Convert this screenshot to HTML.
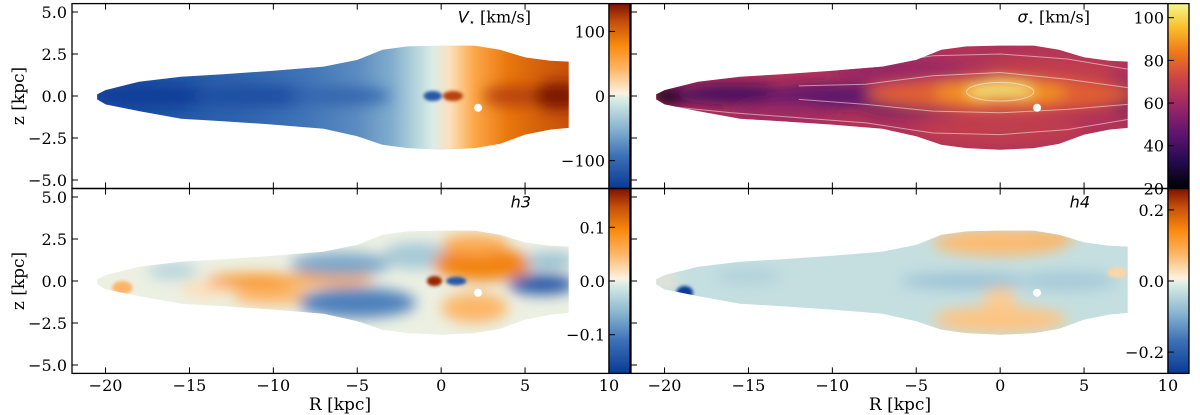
<!DOCTYPE html>
<html><head><meta charset="utf-8">
<style>
html,body{margin:0;padding:0;background:#fff;}
svg{display:block;}
text{font-family:"DejaVu Serif","Liberation Serif",serif;fill:#000;}
.sans{font-family:"DejaVu Sans","Liberation Sans",sans-serif;}
</style></head>
<body>
<svg id="fig" width="1200" height="415" viewBox="0 0 1200 415" xmlns="http://www.w3.org/2000/svg"></svg>
<script>
// ---------- data ----------
const xTicks = [-20, -15, -10, -5, 0, 5, 10];
const yTicks = [5.0, 2.5, 0.0, -2.5, -5.0];
const outlineR   = [-20.5, -20.0, -18.0, -15.5, -13.0, -10.0, -7.0, -5.0, -3.5, -2.0, 0.0, 2.0, 3.5, 5.0, 6.5, 7.6];
const outlineTop = [0.1, 0.35, 0.85, 1.15, 1.3, 1.5, 1.75, 2.15, 2.75, 2.95, 3.0, 3.0, 2.75, 2.3, 2.1, 2.05];
const outlineBot = [-0.2, -0.5, -0.9, -1.35, -1.5, -1.7, -1.95, -2.4, -2.9, -3.1, -3.2, -3.1, -2.85, -2.3, -2.0, -1.9];
// V map
const vGradR   = [-22, -18, -12, -8, -5, -3, -1.5, -0.5, 0.5, 2, 4, 6, 8, 10];
const vGradVal = [-130, -120, -105, -90, -75, -55, -25, -5, 15, 55, 90, 105, 115, 125];
const vBlobs = [ // R, z, value, rR, rz
  [-17, 0, -140, 4, 0.7], [-11, 0, -125, 4, 0.6], [-6, 0, -105, 3, 0.5], [-0.5, 0, -115, 0.55, 0.3],
  [0.7, 0, 120, 0.6, 0.3], [4.5, 0, 120, 2, 0.6], [7, 0, 150, 1.5, 0.8]];
// sigma map
const sBase = 64;
const sBlobs = [
  [-19.5, 0, 22, 1.2, 0.5], [-16, 0.1, 40, 3.5, 0.6], [-10, 0.0, 45, 4, 0.7], [-5, -0.7, 42, 3, 0.4],
  [7.2, 0, 38, 1.0, 0.8], [5, 0.1, 50, 2.5, 0.6], [-13, -1.0, 60, 3, 0.6], [-6, 1.5, 58, 4, 0.7],
  [0, -2, 68, 5, 0.9], [3, 1.6, 68, 4, 0.8], [0, 0.1, 78, 8, 1.0], [0, 0.2, 88, 4, 0.7],
  [0, 0.3, 104, 2.0, 0.5], [0.3, -0.15, 72, 1.5, 0.15]];
const sContours = [[-20, -16, -12, -8, -4, 0, 4, 7.6],[1.0, 1.2, 1.4, 1.8, 2.4, 2.5, 2.2, 1.6],
                   [-20, -16, -12, -8, -4, 0, 4, 7.6],[-0.6, -1.0, -1.3, -1.6, -2.2, -2.3, -2.0, -1.4],
                   [-12, -8, -4, 0, 4, 7.6],[0.6, 0.7, 1.2, 1.4, 1.0, 0.5],
                   [-12, -8, -4, 0, 4, 7.6],[-0.2, -0.5, -0.9, -1.0, -0.8, -0.5]];
// h3 map
const h3Base = 0.0;
const h3Blobs = [
  [-19, -0.4, 0.05, 0.6, 0.4], [-16, 0.6, -0.03, 1.5, 0.5], [-14, -0.5, 0.02, 1.5, 0.5],
  [-11, 0, 0.08, 3, 0.45], [-7, 0.1, 0.07, 3, 0.4], [-10, -0.9, 0.05, 2.5, 0.5],
  [-6, 1.0, -0.07, 3, 0.7], [-5, -1.3, -0.1, 3.5, 0.9], [-1.5, 1.5, -0.04, 2, 0.8],
  [2.5, 1.0, 0.1, 3, 1.0], [2, 2.2, 0.06, 2, 0.6], [2, -1.6, 0.05, 2, 0.9],
  [6, -0.2, -0.14, 2, 0.6], [6.5, 1.2, -0.05, 1.5, 0.5], [-0.4, 0, 0.16, 0.45, 0.3], [0.9, 0, -0.14, 0.6, 0.25]];
// h4 map
const h4Base = -0.03;
const h4Blobs = [
  [-18.8, -0.7, -0.26, 0.5, 0.4], [-20, 0, 0.02, 0.8, 0.3], [-15, 0.3, -0.05, 2, 0.5],
  [0, 2.3, 0.07, 4, 0.8], [0, -2.3, 0.06, 4, 0.8], [3, 2.6, 0.08, 1.5, 0.4],
  [-2, 0, -0.07, 4, 0.5], [4, 0, -0.06, 3, 0.6], [0, -1.0, 0.05, 1, 0.6], [7, 0.5, 0.04, 0.6, 0.3]];
// colorbars
const vCbTicks = [100, 0, -100];
const sCbTicks = [100, 80, 60, 40, 20];
const h3CbTicks = [0.1, 0.0, -0.1];
const h4CbTicks = [0.2, 0.0, -0.2];

// ---------- helpers ----------
const NS = "http://www.w3.org/2000/svg";
const svg = document.getElementById('fig');
function el(tag, attrs, parent){ const e=document.createElementNS(NS,tag); for(const k in attrs) e.setAttribute(k,attrs[k]); (parent||svg).appendChild(e); return e; }
const divStops = [[-1,'#0a3a96'],[-0.65,'#3c70b6'],[-0.35,'#88b4cf'],[-0.03,'#dbeee6'],[0.03,'#fdf1df'],[0.3,'#fdb463'],[0.55,'#f98a0d'],[0.8,'#c64f0a'],[1,'#7c1302']];
const infStops = [[0,'#000004'],[0.15,'#260b50'],[0.3,'#5f156e'],[0.45,'#9b2864'],[0.6,'#d04545'],[0.74,'#f07a1a'],[0.87,'#f9bf2a'],[1,'#f4f78e']];
function hex(c){return [parseInt(c.slice(1,3),16),parseInt(c.slice(3,5),16),parseInt(c.slice(5,7),16)];}
function cmap(stops,t){ t=Math.max(stops[0][0],Math.min(stops[stops.length-1][0],t));
  for(let i=0;i<stops.length-1;i++){ const a=stops[i],b=stops[i+1]; if(t<=b[0]){ const f=(t-a[0])/(b[0]-a[0]); const A=hex(a[1]),B=hex(b[1]);
    return 'rgb('+A.map((v,j)=>Math.round(v+(B[j]-v)*f)).join(',')+')'; } } return stops[stops.length-1][1]; }

const panels = [
  {key:'v', x0:72, y0:3.6, cbx:609, title:'V', cmapF:v=>cmap(divStops,v/143), cbStops:divStops, vmin:-143, vmax:143, ticks:vCbTicks, fmt:v=>String(v).replace('-','−'), ylabels:true, xlabels:false},
  {key:'s', x0:631, y0:3.6, cbx:1168, title:'σ', cmapF:v=>cmap(infStops,(v-20)/86.6), cbStops:infStops, vmin:20, vmax:106.6, ticks:sCbTicks, fmt:v=>String(v), ylabels:false, xlabels:false},
  {key:'h3', x0:72, y0:188.6, cbx:609, title:'h3', cmapF:v=>cmap(divStops,v/0.172), cbStops:divStops, vmin:-0.172, vmax:0.172, ticks:h3CbTicks, fmt:v=>v.toFixed(1).replace('-','−'), ylabels:true, xlabels:true},
  {key:'h4', x0:631, y0:188.6, cbx:1168, title:'h4', cmapF:v=>cmap(divStops,v/0.26), cbStops:divStops, vmin:-0.26, vmax:0.26, ticks:h4CbTicks, fmt:v=>v.toFixed(1).replace('-','−'), ylabels:false, xlabels:true}
];
const SX=16.78, SY=16.8, W=537, H=184.8;

const defs = el('defs',{});
const blurF = el('filter',{id:'blur',filterUnits:'userSpaceOnUse',x:0,y:0,width:1200,height:415},defs);
el('feGaussianBlur',{stdDeviation:'7'},blurF);
const blurS = el('filter',{id:'blurs',filterUnits:'userSpaceOnUse',x:0,y:0,width:1200,height:415},defs);
el('feGaussianBlur',{stdDeviation:'1.5'},blurS);

panels.forEach((p,pi)=>{
  const px=R=>p.x0+(R+22)*SX, pz=z=>p.y0+(5.5-z)*SY;
  const g = el('g',{});
  
  
  let d='M'+px(outlineR[0])+','+pz(outlineTop[0]);
  for(let i=1;i<outlineR.length;i++) d+=' L'+px(outlineR[i]).toFixed(1)+','+pz(outlineTop[i]).toFixed(1);
  for(let i=outlineR.length-1;i>=0;i--) d+=' L'+px(outlineR[i]).toFixed(1)+','+pz(outlineBot[i]).toFixed(1);
  d+=' Z';
  const cp = el('clipPath',{id:'clip'+pi},defs); el('path',{d:d},cp);
  const map = el('g',{'clip-path':'url(#clip'+pi+')'},g);
  
  
  let blobs, base;
  if(p.key==='v'){
    const lg = el('linearGradient',{id:'vgrad',gradientUnits:'userSpaceOnUse',x1:px(-22),y1:0,x2:px(10),y2:0},defs);
    vGradR.forEach((R,i)=>el('stop',{offset:((R+22)/32).toFixed(4),'stop-color':p.cmapF(vGradVal[i])},lg));
    el('rect',{x:p.x0,y:p.y0,width:W,height:H,fill:'url(#vgrad)'},map);
    blobs=vBlobs;
  } else {
    base = p.key==='s'?sBase:(p.key==='h3'?h3Base:h4Base);
    el('rect',{x:p.x0,y:p.y0,width:W,height:H,fill:p.cmapF(base)},map);
    blobs = p.key==='s'?sBlobs:(p.key==='h3'?h3Blobs:h4Blobs);
  }
  const bg = el('g',{filter:'url(#blur)'},map);
  const sg = el('g',{filter:'url(#blurs)'},map);
  blobs.forEach(b=>{
    const small = b[3]<=0.7;
    const e=el('ellipse',{cx:px(b[0]),cy:pz(b[1]),rx:b[3]*SX,ry:b[4]*SY,fill:p.cmapF(b[2])},small?sg:bg);
    
    
  });
  if(p.key==='s'){
    for(let c=0;c<sContours.length;c+=2){
      let cd='';
      sContours[c].forEach((R,i)=>{cd+=(i?' L':'M')+px(R).toFixed(1)+','+pz(sContours[c+1][i]).toFixed(1);});
      el('path',{d:cd,fill:'none',stroke:'#ffffff','stroke-opacity':'0.5','stroke-width':'1'},map);
    }
    el('ellipse',{cx:px(0),cy:pz(0.25),rx:2*SX,ry:0.55*SY,fill:'none',stroke:'#fff','stroke-opacity':'0.5','stroke-width':'1'},map);
  }
  el('circle',{cx:px(2.2),cy:pz(-0.7),r:4,fill:'#fff'},map);
  el('rect',{x:p.x0,y:p.y0,width:W,height:H,fill:'none',stroke:'#000','stroke-width':'1.3'},g);
  xTicks.forEach(t=>{
    const x=px(t);
    el('line',{x1:x,y1:p.y0+H,x2:x,y2:p.y0+H-6,stroke:'#000','stroke-width':'1'},g);
    el('line',{x1:x,y1:p.y0,x2:x,y2:p.y0+6,stroke:'#000','stroke-width':'1'},g);
    if(p.xlabels){ const tx=el('text',{x:x,y:391,'font-size':'16','text-anchor':'middle'},g); tx.textContent=String(t).replace('-','−');
        }
  });
  yTicks.forEach(t=>{
    const y=pz(t);
    el('line',{x1:p.x0,y1:y,x2:p.x0+6,y2:y,stroke:'#000','stroke-width':'1'},g);
    if(p.ylabels){ const tx=el('text',{x:67,y:y+6,'font-size':'16','text-anchor':'end'},g); tx.textContent=t.toFixed(1).replace('-','−');
        }
  });
  const tt=el('text',{x:p.cbx-78,y:p.y0+19,'font-size':'16','text-anchor':'end'},g);
  
  
  if(p.key==='v'||p.key==='s'){
    tt.innerHTML='<tspan class="sans" font-style="italic">'+p.title+'</tspan><tspan font-size="10" dy="3">⋆</tspan><tspan dy="-3"> [km/s]</tspan>';
  } else { tt.setAttribute('class','sans'); tt.setAttribute('font-style','italic'); tt.textContent=p.title; }
  const cg=el('linearGradient',{id:'cb'+pi,x1:0,y1:1,x2:0,y2:0},defs);
  p.cbStops.forEach(s=>{ const t0=p.cbStops[0][0], t1=p.cbStops[p.cbStops.length-1][0];
    el('stop',{offset:((s[0]-t0)/(t1-t0)).toFixed(4),'stop-color':s[1]},cg); });
  const cb=el('rect',{x:p.cbx,y:p.y0,width:21,height:H,fill:'url(#cb'+pi+')',stroke:'#000','stroke-width':'1.3'},g);
  
  
  const cy=v=>p.y0+H*(p.vmax-v)/(p.vmax-p.vmin);
  p.ticks.forEach(v=>{
    const y=cy(v);
    el('line',{x1:p.cbx,y1:y,x2:p.cbx+6,y2:y,stroke:'#000','stroke-width':'1'},g);
    const tx=el('text',{x:p.cbx-4,y:y+6,'font-size':'16','text-anchor':'end'},g); tx.textContent=p.fmt(v);
     
  });
});
[[96],[281]].forEach(a=>{ const t=el('text',{x:0,y:0,'font-size':'17','text-anchor':'middle',transform:'translate(24,'+a[0]+') rotate(-90)'}); t.textContent='z [kpc]';
    });
[340,900].forEach(x=>{ const t=el('text',{x:x,y:410,'font-size':'17','text-anchor':'middle'}); t.textContent='R [kpc]';
    });
</script>
</body></html>
